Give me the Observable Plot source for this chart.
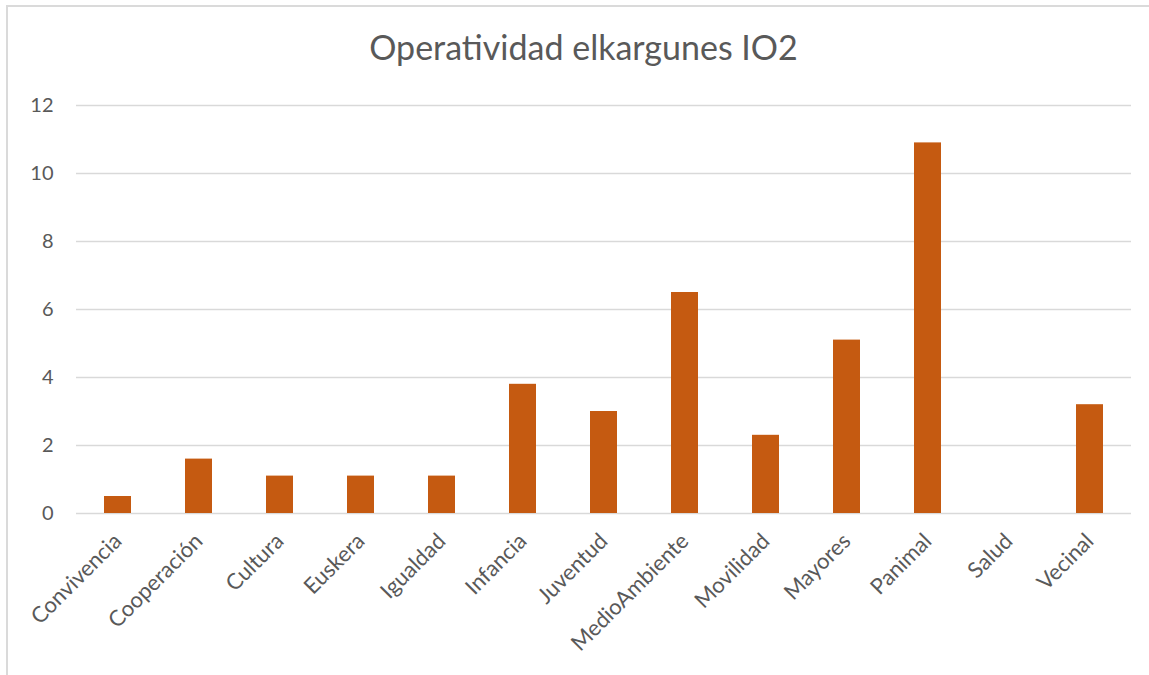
<!DOCTYPE html>
<html><head><meta charset="utf-8">
<script src="https://cdn.jsdelivr.net/npm/d3@7"></script>
<script src="https://cdn.jsdelivr.net/npm/@observablehq/plot@0.6"></script>
<style>
body{margin:0;background:#fff;width:1149px;height:675px;overflow:hidden;position:relative;font-family:Lato,"Open Sans",sans-serif;}
#frame{position:absolute;left:6px;top:5px;width:1300px;height:800px;border:2px solid #dadada;box-sizing:border-box;}
#title{position:absolute;left:0;top:27px;width:1149px;text-align:center;font-size:34px;line-height:40px;color:#595959;padding-left:18px;box-sizing:border-box;}
#chart{position:absolute;left:0;top:90px;}
</style></head>
<body>
<div id="frame"></div>
<div id="title">Operatividad elkargunes IO2</div>
<div id="chart"></div>
<script>
const categories = ["Convivencia","Cooperación","Cultura","Euskera","Igualdad","Infancia","Juventud","MedioAmbiente","Movilidad","Mayores","Panimal","Salud","Vecinal"];
const values = [0.5,1.6,1.1,1.1,1.1,3.8,3.0,6.5,2.3,5.1,10.9,0,3.2];
const yTicks = [0,2,4,6,8,10,12];
const data = categories.map((c,i)=>({cat:c,v:values[i]}));
const chart = Plot.plot({
  width:1149, height:585,
  marginLeft:76, marginRight:18, marginTop:15, marginBottom:162,
  style:{fontFamily:"Lato, 'Open Sans', sans-serif", color:"#595959", background:"transparent"},
  x:{domain:categories, paddingInner:0.67, paddingOuter:0.335, label:null},
  y:{domain:[0,12], label:null},
  marks:[
    Plot.gridY(yTicks,{stroke:"#d9d9d9", strokeOpacity:1, strokeWidth:1.5}),
    Plot.barY(data,{x:"cat", y:"v", fill:"#C55A11"}),
    Plot.axisY({ticks:yTicks, tickSize:0, tickPadding:23, fontSize:20, fill:"#595959", label:null}),
    Plot.axisX({tickSize:0, tickRotate:-45, tickPadding:24, fontSize:22, fill:"#595959", label:null})
  ]
});
document.getElementById("chart").appendChild(chart);
</script>
</body></html>
